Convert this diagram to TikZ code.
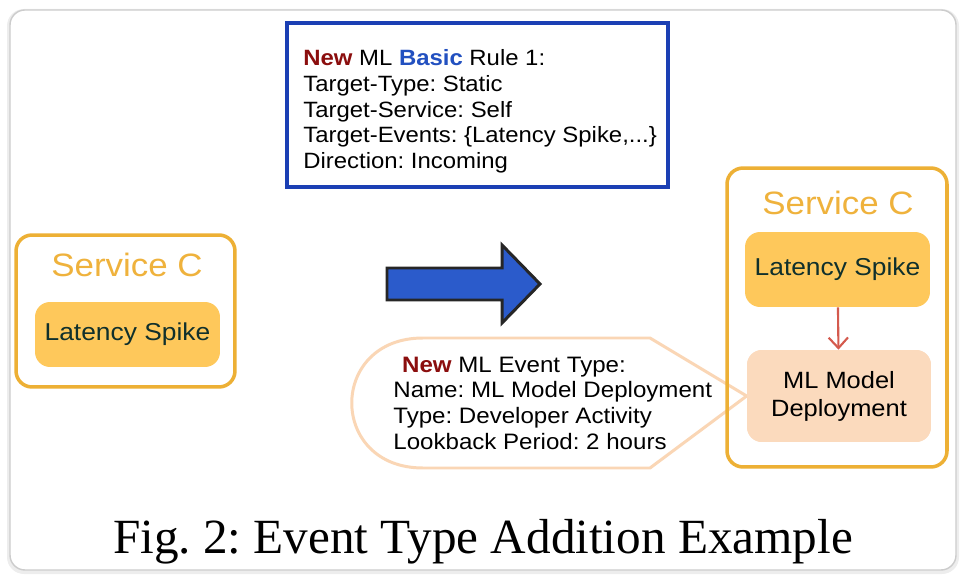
\documentclass[tikz,border=0pt]{standalone}
\usepackage{fontspec}
\setmainfont{Liberation Sans}[FakeStretch=1.08]
\newfontfamily\captionfont{Liberation Serif}
\usetikzlibrary{arrows.meta}
\frenchspacing

\definecolor{ruleblue}{HTML}{1B3FB4}
\definecolor{svcorange}{HTML}{EDB035}
\definecolor{svctext}{HTML}{EFB23C}
\definecolor{latfill}{HTML}{FEC85B}
\definecolor{lattext}{HTML}{10302C}
\definecolor{mlfill}{HTML}{FBDABD}
\definecolor{bubbleline}{HTML}{FAD6B5}
\definecolor{arrowblue}{HTML}{2B5BCB}
\definecolor{newred}{HTML}{8B0E0E}
\definecolor{basicblue}{HTML}{2250C0}
\definecolor{linkred}{HTML}{D45A4E}

\tikzset{
    service/.style={draw=svcorange, line width=2pt, rounded corners=0.32cm, inner sep=0pt},
    svctitle/.style={text=svctext, anchor=base, inner sep=0pt, font=\fontsize{18.4pt}{22pt}\selectfont},
    latency/.style={fill=latfill, text=lattext, rounded corners=0.3cm, inner sep=0pt, font=\fontsize{13.9pt}{16pt}\selectfont},
    mlevent/.style={fill=mlfill, rounded corners=0.3cm, inner sep=0pt, align=center},
    infotext/.style={anchor=north west, align=left, inner sep=0pt},
}

\begin{document}
\frenchspacing
\begin{tikzpicture}[x=0.02cm, y=-0.02cm]

            \useasboundingbox (0, 0) rectangle (966, 580);
            \fill[black!7, rounded corners=0.34cm] (7, 9) rectangle (959, 574);
            \draw[black!20, fill=white, line width=0.8pt, rounded corners=0.3cm] (10, 10) rectangle (956, 570);

            \node (rule) at (477.5, 105) [draw=ruleblue, line width=2.2pt, minimum width=7.62cm, minimum height=3.28cm] {};
            \node (rule-text) at (303, 49.5) [infotext, font=\fontsize{12.6pt}{14.6pt}\selectfont] {\textbf{\color{newred}New} ML \textbf{\color{basicblue}Basic} Rule 1:\\Target-Type: Static\\Target-Service: Self\\Target-Events: \{Latency Spike,...\}\\Direction: Incoming};

            \node (svc-1) at (125.5, 311) [service, minimum width=4.38cm, minimum height=3.04cm] {};
            \node (svc-1-title) at (127, 277) [svctitle] {Service C};
            \node (lat-1) at (127.5, 334.5) [latency, minimum width=3.7cm, minimum height=1.3cm] {Latency Spike};

            \draw[draw=black!85, fill=arrowblue, line width=1.7pt] (387, 268) -- (502, 268) -- (502, 245) -- (540, 284) -- (502, 323) -- (502, 300) -- (387, 300) -- cycle;

            \node (ml) at (839, 396) [mlevent, minimum width=3.68cm, minimum height=1.84cm, font=\fontsize{13.4pt}{16pt}\selectfont] {ML Model\\Deployment};

            \draw[bubbleline, fill=white, line width=1.7pt] (423, 338) -- (650, 338) -- (ml.west) -- (650, 468) -- (423, 468) .. controls (328, 468) and (328, 338) .. (423, 338) -- cycle;
            \node (bubble-text) at (393, 356.5) [infotext, font=\fontsize{12.7pt}{14.6pt}\selectfont] {\hspace*{5pt}\textbf{\color{newred}New} ML Event Type:\\Name: ML Model Deployment\\Type: Developer Activity\\Lookback Period: 2 hours};

            \node (svc-2) at (837, 317.5) [service, minimum width=4.4cm, minimum height=5.98cm] {};
            \node (svc-2-title) at (838, 215) [svctitle] {Service C};
            \node (lat-2) at (837.5, 269.5) [latency, minimum width=3.7cm, minimum height=1.5cm] {Latency Spike};
            \node (ml) at (839, 396) [mlevent, minimum width=3.68cm, minimum height=1.84cm, font=\fontsize{13.4pt}{16pt}\selectfont] {ML Model\\Deployment};

            \draw[linkred, line width=1.2pt, -{Straight Barb[length=6pt, width=11pt]}] (lat-2) -- (ml);

            \node (caption) at (483, 553) [anchor=base, inner sep=0pt, font=\captionfont\fontsize{28pt}{32pt}\selectfont] {Fig. 2: Event Type Addition Example};

\end{tikzpicture}
\end{document}
